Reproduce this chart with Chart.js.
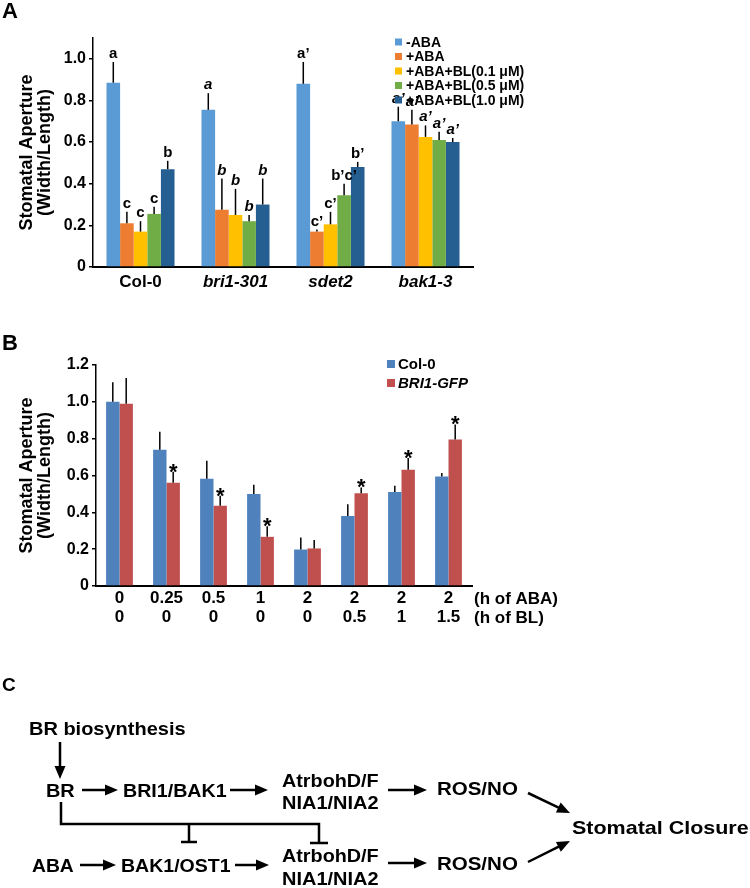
<!DOCTYPE html>
<html>
<head>
<meta charset="utf-8">
<script src="https://cdn.jsdelivr.net/npm/chart.js@4.4.0/dist/chart.umd.min.js"></script>
<style>
  html, body { margin: 0; padding: 0; background: #fff; }
  #wrap { position: relative; width: 750px; height: 888px; }
  canvas { position: absolute; left: 0; }
  #chartA { top: 0; }
  #chartB { top: 300px; }
</style>
</head>
<body>
<div id="wrap">
  <canvas id="chartA" width="750" height="300"></canvas>
  <canvas id="chartB" width="750" height="588"></canvas>
</div>
<script>
// ---- panel A data ----
const genotypes = ["Col-0", "bri1-301", "sdet2", "bak1-3"];
const italicGenotype = [false, true, true, true];
const italicMarks = [false, true, false, true];

const noABA = [0.885, 0.755, 0.88, 0.70];
const errNoABA = [0.10, 0.08, 0.105, 0.07];
const plusABA = [0.21, 0.275, 0.17, 0.685];
const errPlusABA = [0.055, 0.15, 0.01, 0.07];
const bl01 = [0.17, 0.25, 0.205, 0.625];
const errBl01 = [0.05, 0.125, 0.06, 0.055];
const bl05 = [0.255, 0.22, 0.345, 0.61];
const errBl05 = [0.035, 0.03, 0.055, 0.04];
const bl10 = [0.47, 0.30, 0.48, 0.60];
const errBl10 = [0.04, 0.125, 0.025, 0.02];

const marksNoABA = ["a", "a", "a’", "a’"];
const marksPlusABA = ["c", "b", "c’", "a’"];
const marksBl01 = ["c", "b", "c’", "a’"];
const marksBl05 = ["c", "b", "b’c’", "a’"];
const marksBl10 = ["b", "b", "b’", "a’"];

// ---- panel B data ----
const hABA = ["0", "0.25", "0.5", "1", "2", "2", "2", "2"];
const hBL = ["0", "0", "0", "0", "0", "0.5", "1", "1.5"];
const col0 = [1.0, 0.74, 0.582, 0.50, 0.198, 0.38, 0.51, 0.595];
const errCol0 = [0.107, 0.097, 0.098, 0.05, 0.066, 0.064, 0.034, 0.018];
const bri1gfp = [0.99, 0.56, 0.436, 0.267, 0.204, 0.504, 0.631, 0.795];
const errBri1gfp = [0.14, 0.06, 0.054, 0.058, 0.046, 0.031, 0.064, 0.082];
const starsBri1 = ["", "*", "*", "*", "", "*", "*", "*"];

const FONT = "'Liberation Sans', Arial, Helvetica, sans-serif";
Chart.defaults.font.family = FONT;
Chart.defaults.color = "#000";

// error bar + letter marks above each bar
const errorBars = {
  id: "errorBars",
  afterDatasetsDraw(chart, args, opts) {
    const { ctx } = chart;
    const y = chart.scales.y;
    ctx.save();
    ctx.strokeStyle = "#000";
    ctx.lineWidth = 1.5;
    chart.data.datasets.forEach((ds, di) => {
      chart.getDatasetMeta(di).data.forEach((bar, i) => {
        const top = y.getPixelForValue(ds.data[i] + ds.err[i]);
        ctx.beginPath();
        ctx.moveTo(bar.x, bar.y);
        ctx.lineTo(bar.x, top);
        ctx.stroke();
        const m = ds.marks && ds.marks[i];
        if (m) {
          const it = opts.italic && opts.italic[i] ? "italic " : "";
          ctx.font = it + "bold " + opts.size + "px " + FONT;
          ctx.fillStyle = "#000";
          ctx.textAlign = "center";
          ctx.textBaseline = "alphabetic";
          ctx.fillText(m, bar.x, top + opts.gap);
        }
      });
    });
    ctx.restore();
  }
};

// small square legend placed freely
const boxLegend = {
  id: "boxLegend",
  afterDraw(chart, args, o) {
    const { ctx } = chart;
    ctx.save();
    chart.data.datasets.forEach((ds, i) => {
      const y = o.y + i * o.step;
      ctx.fillStyle = ds.backgroundColor;
      ctx.fillRect(o.x, y - o.box / 2, o.box, o.box);
      ctx.fillStyle = "#000";
      const it = o.italic && o.italic[i] ? "italic " : "";
      ctx.font = it + "bold " + o.size + "px " + FONT;
      ctx.textAlign = "left";
      ctx.textBaseline = "middle";
      ctx.fillText(ds.label, o.x + o.box + o.gap, y + 1);
    });
    ctx.restore();
  }
};

// panel letter + extra texts
const extraText = {
  id: "extraText",
  afterDraw(chart, args, o) {
    const { ctx } = chart;
    ctx.save();
    ctx.fillStyle = "#000";
    ctx.textAlign = "left";
    ctx.textBaseline = "alphabetic";
    (o.items || []).forEach(t => {
      ctx.font = "bold " + t.size + "px " + FONT;
      ctx.fillText(t.text, t.x, t.y);
    });
    ctx.restore();
  }
};

// ---- chart A ----
const dsA = [
  { label: "-ABA", data: noABA, err: errNoABA, marks: marksNoABA, backgroundColor: "#5B9BD5" },
  { label: "+ABA", data: plusABA, err: errPlusABA, marks: marksPlusABA, backgroundColor: "#ED7D31" },
  { label: "+ABA+BL(0.1 μM)", data: bl01, err: errBl01, marks: marksBl01, backgroundColor: "#FFC000" },
  { label: "+ABA+BL(0.5 μM)", data: bl05, err: errBl05, marks: marksBl05, backgroundColor: "#70AD47" },
  { label: "+ABA+BL(1.0 μM)", data: bl10, err: errBl10, marks: marksBl10, backgroundColor: "#255E91" }
];
dsA.forEach(d => { d.categoryPercentage = 0.716; d.barPercentage = 1.0; d.borderWidth = 0; });

new Chart(document.getElementById("chartA"), {
  type: "bar",
  data: { labels: genotypes, datasets: dsA },
  options: {
    responsive: false,
    animation: false,
    layout: { padding: { top: 38, right: 277, left: 0, bottom: 0 } },
    scales: {
      x: {
        grid: { display: false, drawTicks: false },
        border: { display: true, color: "#000", width: 2 },
        ticks: {
          padding: 5,
          font: c => ({ size: 17, weight: "bold", style: italicGenotype[c.index] ? "italic" : "normal" })
        },
        afterFit: s => { s.height = 33; }
      },
      y: {
        min: 0, max: 1.1,
        grid: { display: true, drawOnChartArea: false, drawTicks: true, tickLength: 4, color: "#000", lineWidth: 1.5 },
        border: { display: true, color: "#000", width: 1.5 },
        ticks: {
          stepSize: 0.2, includeBounds: false, padding: 3,
          font: { size: 16, weight: "bold" },
          callback: v => (v === 0 ? "0" : v.toFixed(1))
        },
        title: {
          display: true,
          text: ["Stomatal Aperture", "(Width/Length)"],
          font: { size: 18, weight: "bold", lineHeight: 1 },
          padding: { top: 18, bottom: 0 }
        },
        afterFit: s => { s.width = 93; }
      }
    },
    plugins: {
      legend: { display: false },
      tooltip: { enabled: false },
      errorBars: { size: 15, gap: -4, italic: italicMarks },
      boxLegend: { x: 395, y: 42, step: 14.5, box: 7, gap: 4, size: 14 },
      extraText: { items: [{ text: "A", x: 2, y: 18, size: 22 }] }
    }
  },
  plugins: [errorBars, boxLegend, extraText]
});

// ---- panel C diagram (drawn inside chart B canvas, page y - 300) ----
function arrow(ctx, x1, y1, x2, y2) {
  const a = Math.atan2(y2 - y1, x2 - x1), hl = 13, hw = 5.5;
  const bx = x2 - hl * Math.cos(a), by = y2 - hl * Math.sin(a);
  ctx.beginPath(); ctx.moveTo(x1, y1); ctx.lineTo(bx + 1 * Math.cos(a), by + 1 * Math.sin(a)); ctx.stroke();
  ctx.beginPath();
  ctx.moveTo(x2, y2);
  ctx.lineTo(bx + hw * Math.sin(a), by - hw * Math.cos(a));
  ctx.lineTo(bx - hw * Math.sin(a), by + hw * Math.cos(a));
  ctx.closePath(); ctx.fill();
}
function fitText(ctx, str, left, right, cy, size) {
  ctx.font = "bold " + size + "px " + FONT;
  const m = ctx.measureText(str);
  const w = m.actualBoundingBoxLeft + m.actualBoundingBoxRight;
  const k = (right - left) / w;
  ctx.save();
  ctx.translate(left + m.actualBoundingBoxLeft * k, cy + 0.358 * size);
  ctx.scale(k, 1);
  ctx.textAlign = "left";
  ctx.textBaseline = "alphabetic";
  ctx.fillText(str, 0, 0);
  ctx.restore();
}
const diagram = {
  id: "diagram",
  afterDraw(chart, args, o) {
    const ctx = chart.ctx, oy = o.offsetY;
    ctx.save();
    ctx.translate(0, oy);
    ctx.fillStyle = "#000";
    ctx.strokeStyle = "#000";
    ctx.lineWidth = 2.5;
    ctx.font = "bold 19px " + FONT;
    ctx.fillText("C", 2, 691);
    const S = 19;
    fitText(ctx, "BR biosynthesis", 30, 185, 728, S);
    fitText(ctx, "BR", 47, 75, 790, S);
    fitText(ctx, "BRI1/BAK1", 124, 227, 790, S);
    fitText(ctx, "AtrbohD/F", 282, 378, 780, S);
    fitText(ctx, "NIA1/NIA2", 283, 378, 802, S);
    fitText(ctx, "ROS/NO", 438, 517, 788, S);
    fitText(ctx, "Stomatal Closure", 572, 748, 827, S);
    fitText(ctx, "ABA", 32, 74, 865, S);
    fitText(ctx, "BAK1/OST1", 122, 231, 865, S);
    fitText(ctx, "AtrbohD/F", 282, 378, 855, S);
    fitText(ctx, "NIA1/NIA2", 283, 378, 878, S);
    fitText(ctx, "ROS/NO", 438, 517, 863, S);
    arrow(ctx, 60, 742, 60, 779);
    arrow(ctx, 82, 790, 118, 790);
    arrow(ctx, 230, 790, 268, 790);
    arrow(ctx, 388, 790, 427, 790);
    arrow(ctx, 528, 793, 570, 813);
    arrow(ctx, 80, 865, 116, 865);
    arrow(ctx, 235, 865, 269, 865);
    arrow(ctx, 388, 863, 427, 863);
    arrow(ctx, 528, 862, 570, 841);
    // inhibition lines
    ctx.lineCap = "butt";
    ctx.beginPath();
    ctx.moveTo(61, 802); ctx.lineTo(61, 824); ctx.lineTo(319, 824); ctx.lineTo(319, 843);
    ctx.moveTo(189, 824); ctx.lineTo(189, 842);
    ctx.moveTo(181, 842); ctx.lineTo(197, 842);
    ctx.moveTo(310, 843); ctx.lineTo(328, 843);
    ctx.stroke();
    ctx.restore();
  }
};

// ---- chart B ----
const dsB = [
  { label: "Col-0", data: col0, err: errCol0, backgroundColor: "#4F81BD" },
  { label: "BRI1-GFP", data: bri1gfp, err: errBri1gfp, marks: starsBri1, backgroundColor: "#C0504D" }
];
dsB.forEach(d => { d.categoryPercentage = 0.57; d.barPercentage = 1.0; d.borderWidth = 0; });

new Chart(document.getElementById("chartB"), {
  type: "bar",
  data: { labels: hABA.map((h, i) => [h, hBL[i]]), datasets: dsB },
  options: {
    responsive: false,
    animation: false,
    layout: { padding: { top: 65, right: 278, left: 0, bottom: 262 } },
    scales: {
      x: {
        grid: { display: false, drawTicks: false },
        border: { display: true, color: "#000", width: 2 },
        ticks: { padding: 3, font: { size: 17, weight: "bold", lineHeight: 1.12 } },
        afterFit: s => { s.height = 40; }
      },
      y: {
        min: 0, max: 1.2,
        grid: { display: true, drawOnChartArea: false, drawTicks: true, tickLength: 4, color: "#000", lineWidth: 1.5 },
        border: { display: true, color: "#000", width: 1.5 },
        ticks: {
          stepSize: 0.2, padding: 3,
          font: { size: 16, weight: "bold" },
          callback: v => (v === 0 ? "0" : v.toFixed(1))
        },
        title: {
          display: true,
          text: ["Stomatal Aperture", "(Width/Length)"],
          font: { size: 18, weight: "bold", lineHeight: 1 },
          padding: { top: 18, bottom: 0 }
        },
        afterFit: s => { s.width = 96; }
      }
    },
    plugins: {
      legend: { display: false },
      tooltip: { enabled: false },
      errorBars: { size: 22, gap: 7 },
      boxLegend: { x: 387, y: 64, step: 19, box: 8, gap: 3, size: 15, italic: [false, true] },
      extraText: {
        items: [
          { text: "B", x: 2, y: 50, size: 22 },
          { text: "(h of ABA)", x: 474, y: 304, size: 17 },
          { text: "(h of BL)", x: 474, y: 323, size: 17 }
        ]
      },
      diagram: { offsetY: -300 }
    }
  },
  plugins: [errorBars, boxLegend, extraText, diagram]
});
</script>
</body>
</html>
